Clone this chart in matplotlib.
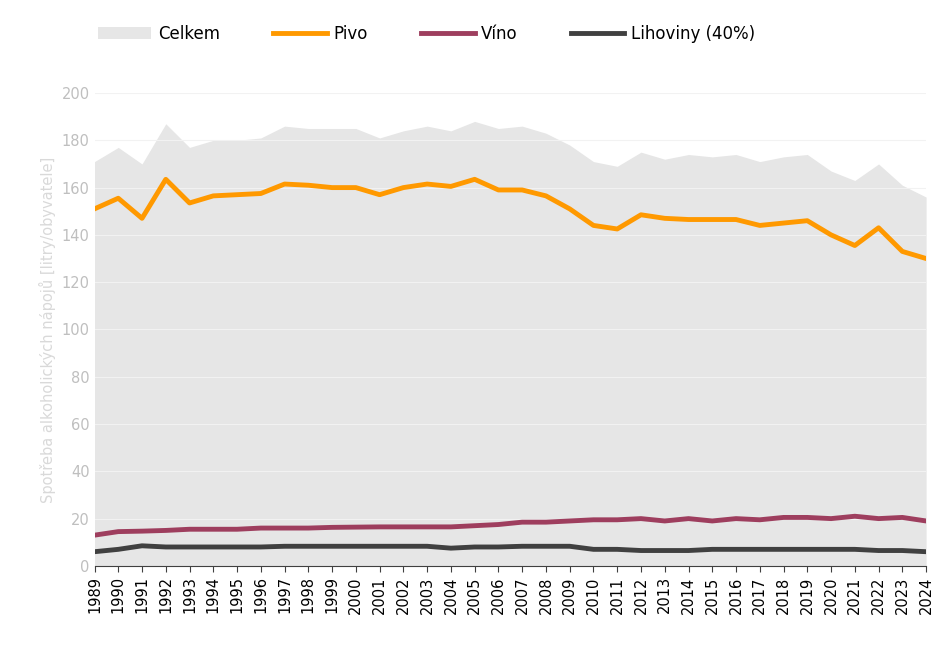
import matplotlib
matplotlib.use("Agg")
import matplotlib.pyplot as plt

years = list(range(1989, 2025))
celkem = [171,177,170,187,177,180,180,181,186,185,185,185,181,184,186,184,188,185,186,183,178,171,169,175,172,174,173,174,171,173,174,167,163,170,161,156]
pivo = [151,155.5,147,163.5,153.5,156.5,157,157.5,161.5,161,160,160,157,160,161.5,160.5,163.5,159,159,156.5,151,144,142.5,148.5,147,146.5,146.5,146.5,144,145,146,140,135.5,143,133,130]
vino = [13,14.5,14.7,15,15.5,15.5,15.5,16,16,16,16.3,16.4,16.5,16.5,16.5,16.5,17,17.5,18.5,18.5,19,19.5,19.5,20,19,20,19,20,19.5,20.5,20.5,20,21,20,20.5,19]
lihoviny = [6,7,8.5,8,8,8,8,8,8.3,8.3,8.3,8.3,8.3,8.3,8.3,7.5,8,8,8.3,8.3,8.3,7,7,6.5,6.5,6.5,7,7,7,7,7,7,7,6.5,6.5,6]

fig = plt.figure(figsize=(9.45, 6.46), dpi=100)
ax = fig.add_axes([0.1, 0.124, 0.88, 0.732])
ax.fill_between(years, celkem, color="#e6e6e6", label="Celkem", lw=0)
ax.plot(years, pivo, color="#ff9900", lw=3.5, label="Pivo")
ax.plot(years, vino, color="#9e3e5e", lw=3.5, label="Víno")
ax.plot(years, lihoviny, color="#404040", lw=3.5, label="Lihoviny (40%)")
ax.set_xlim(1989, 2024)
ax.set_ylim(0, 200)
ax.set_yticks(range(0, 201, 20))
ax.set_xticks(years)
ax.set_xticklabels([str(y) for y in years], rotation=90, fontsize=10.5)
ax.tick_params(axis="y", colors="#bfbfbf", labelsize=10.5, length=0)
ax.tick_params(axis="x", colors="#404040", length=4)
for t in ax.get_xticklabels():
    t.set_color("black")
ax.grid(axis="y", color="#f2f2f2", lw=0.8)
for s in ["top", "right", "left"]:
    ax.spines[s].set_visible(False)
ax.spines["bottom"].set_color("#404040")
ax.set_ylabel("Spotřeba alkoholických nápojů [litry/obyvatele]", color="#d9d9d9", fontsize=10.5)
fig.legend(loc="upper left", bbox_to_anchor=(0.088, 0.985), ncol=4, frameon=False, fontsize=12,
           handlelength=3.2, handletextpad=0.4, columnspacing=3.2)
fig.savefig("out.png")
